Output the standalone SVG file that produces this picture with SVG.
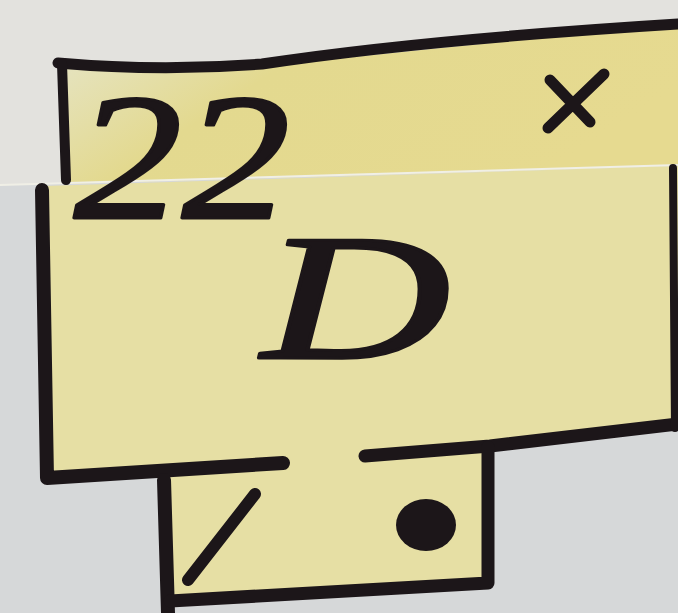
<svg xmlns="http://www.w3.org/2000/svg" width="678" height="613" viewBox="0 0 678 613">
<defs>
<linearGradient id="upper" x1="0" y1="0" x2="1" y2="0.4">
<stop offset="0" stop-color="#e6e6cc"/>
<stop offset="0.4" stop-color="#e3d98f"/>
<stop offset="1" stop-color="#e6da90"/>
</linearGradient>
<style>
.ink{fill:none;stroke:#1c1619;stroke-linecap:round;stroke-linejoin:round}
.room{fill:#e6dfa4}
.lbl{fill:#1c1619;stroke:#1c1619;stroke-width:3;stroke-linejoin:round;font-family:"Liberation Serif","DejaVu Serif",serif;font-style:italic;font-weight:normal}
</style>
</defs>
<rect width="678" height="613" fill="#d6d8d9"/>
<polygon points="0,0 678,0 678,165 0,185" fill="#e3e2de"/>
<g id="upper-room">
<polygon points="62,66 265,66 678,24 678,166 62,184" fill="url(#upper)"/>
</g>
<g id="main-room">
<polygon class="room" points="44,186 678,166 678,424 488,444 488,583 170,600 164,478 47,478"/>
</g>
<line x1="0" y1="185" x2="678" y2="165" stroke="#f0efe6" stroke-width="2"/>
<g id="walls">
<path class="ink" stroke-width="11" d="M58,63 Q160,72 262,64 Q420,40 678,24"/>
<path class="ink" stroke-width="10" d="M62,64 L66,180"/>
<path class="ink" stroke-width="14" d="M42,190 L47,478 L283,463"/>
<path class="ink" stroke-width="13" d="M365,456 L490,446 L678,424"/>
<path class="ink" stroke-width="14" d="M164,480 L168,613"/>
<path class="ink" stroke-width="13" d="M170,601 L488,583 L488,447"/>
<path class="ink" stroke-width="8" d="M673,168 L675,428"/>
</g>
<g id="marks">
<text class="lbl" x="74" y="218" font-size="180" transform="translate(74 218) scale(1.2 1) translate(-74 -218)">22</text>
<text class="lbl" x="262" y="358" font-size="180" transform="translate(262 358) scale(1.45 1) translate(-262 -358)">D</text>
<path class="ink" stroke-width="11" d="M550,80 L590,122 M604,74 L548,128"/>
<path class="ink" stroke-width="12" d="M255,494 L188,580"/>
<ellipse cx="426" cy="525" rx="30" ry="26" fill="#1c1619"/>
</g>
</svg>
